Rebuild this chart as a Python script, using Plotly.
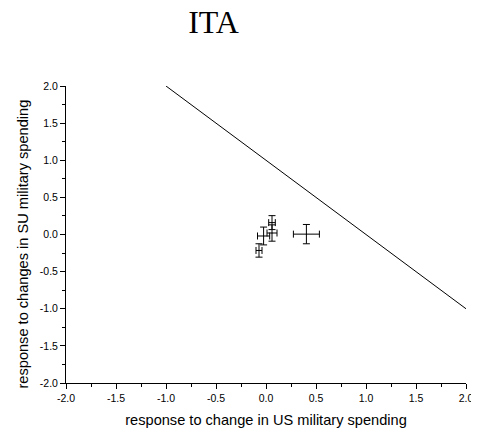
import plotly.graph_objects as go

# data
x_vals = [0.06, 0.06, -0.024, -0.07, 0.404]
y_vals = [0.16, 0.02, -0.02, -0.215, 0.005]
x_err = [0.033, 0.05, 0.061, 0.03, 0.13]
y_err = [0.094, 0.11, 0.12, 0.09, 0.13]
line_x = [-1.0, 2.0]
line_y = [2.0, -1.0]
tick_vals = [-2.0, -1.5, -1.0, -0.5, 0.0, 0.5, 1.0, 1.5, 2.0]

# page body has an 8px default margin
W, H = 471, 428

fig = go.Figure()
fig.add_trace(go.Scatter(x=line_x, y=line_y, mode="lines",
                         line=dict(color="black", width=1), showlegend=False))
fig.add_trace(go.Scatter(
    x=x_vals, y=y_vals, mode="markers",
    marker=dict(size=1, color="black"),
    error_x=dict(type="data", array=x_err, color="black", thickness=1, width=3.5),
    error_y=dict(type="data", array=y_err, color="black", thickness=1, width=3.5),
    showlegend=False))

axis_common = dict(
    range=[-2, 2], tickvals=tick_vals, ticktext=[f"{v:.1f}" for v in tick_vals],
    showline=True, linecolor="black", linewidth=1, ticks="outside", ticklen=5,
    tickcolor="black", showgrid=False, zeroline=False, automargin=False,
    tickfont=dict(family="Liberation Sans, Arial", size=10.5, color="black"),
    minor=dict(ticks="outside", ticklen=3, dtick=0.25, tickcolor="black", showgrid=False),
)

fig.update_layout(
    width=W, height=H,
    margin=dict(l=58, r=13, t=78, b=53),
    paper_bgcolor="white", plot_bgcolor="white",
    title=dict(text="ITA", x=205.5 / W, xanchor="center", y=1 - 13.5 / H, yanchor="middle",
               font=dict(family="Liberation Serif, Times New Roman", size=32, color="black")),
    xaxis=dict(axis_common, title=dict(text="response to change in US military spending",
                                       font=dict(family="Liberation Sans, Arial", size=14.6, color="black"),
                                       standoff=12)),
    yaxis=dict(axis_common),
    annotations=[dict(text="response to changes in SU military spending",
                      xref="paper", yref="paper", x=0, y=0.5, xshift=-44, yshift=-10,
                      xanchor="center", yanchor="middle", textangle=-90, showarrow=False,
                      font=dict(family="Liberation Sans, Arial", size=14.6, color="black"))],
)

fig.write_html("out.html")
